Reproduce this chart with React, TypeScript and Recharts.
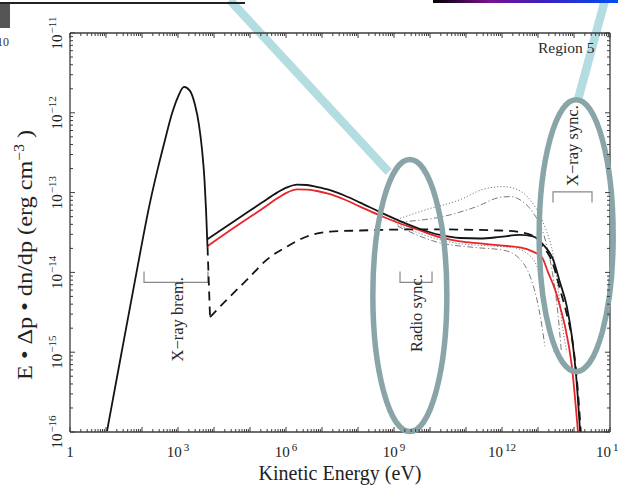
import React from 'react';
import { LineChart, Line, XAxis, YAxis, ReferenceLine, ReferenceDot } from 'recharts';

const FONT = '"Liberation Serif", "Times New Roman", serif';
const FRAME = '#3c3c3c';
const RED = '#e8262a';
const BLACK = '#141414';
const GRAY = '#7a7a7a';
const ELLIPSE = '#8aa5a8';
const CYAN = '#b3dde1';

// ---- series values, stored as log10 exponents: E in eV, y in erg cm^-3 ----
const thermalE = [1.028, 1.389, 1.806, 2.222, 2.444, 2.639, 2.833, 3.0, 3.167, 3.333, 3.472, 3.583, 3.667, 3.736, 3.778, 3.819];
const thermalY = [-15.99, -15.11, -14.1, -13.125, -12.69, -12.34, -12.01, -11.8, -11.675, -11.725, -11.9, -12.15, -12.46, -12.84, -13.21, -13.675];

const blackE = [3.806, 4.361, 4.917, 5.333, 5.75, 6.028, 6.306, 6.583, 6.861, 7.222, 7.639, 8.056, 8.611, 9.167, 9.722, 10.278, 10.833, 11.389, 11.944, 12.5, 12.86, 13.14, 13.42, 13.61, 13.8, 13.94, 14.06, 14.17];
const blackY = [-13.5875, -13.419, -13.25, -13.125, -13.0, -12.935, -12.9, -12.905, -12.93, -12.97, -13.04, -13.125, -13.244, -13.356, -13.456, -13.531, -13.569, -13.575, -13.556, -13.531, -13.55, -13.65, -13.84, -14.125, -14.425, -14.8, -15.3, -16.0];

const redE = [3.806, 4.361, 4.917, 5.333, 5.75, 6.028, 6.306, 6.583, 6.861, 7.222, 7.639, 8.056, 8.611, 9.167, 9.722, 10.278, 10.833, 11.389, 11.944, 12.5, 12.86, 13.11, 13.28, 13.47, 13.61, 13.75, 13.94, 14.11];
const redY = [-13.675, -13.5, -13.331, -13.206, -13.075, -13.0, -12.96, -12.962, -12.98, -13.02, -13.09, -13.175, -13.2875, -13.3875, -13.475, -13.5625, -13.6125, -13.6375, -13.6625, -13.6875, -13.74, -13.81, -14.0, -14.21, -14.425, -14.675, -15.175, -16.0];

const dashDropE = [3.82, 3.89];
const dashDropY = [-13.675, -14.56];
const dashE = [3.89, 4.36, 4.92, 5.47, 6.03, 6.58, 7.22, 8.06, 9.92, 11.94, 12.42, 12.86, 13.14, 13.42, 13.61, 13.8, 13.97, 14.08, 14.19];
const dashY = [-14.56, -14.34, -14.09, -13.84, -13.675, -13.55, -13.49, -13.475, -13.46, -13.475, -13.49, -13.54, -13.675, -13.9, -14.21, -14.525, -14.9, -15.34, -16.0];

const dotHiE = [9.0, 9.92, 10.83, 11.47, 12.03, 12.42, 12.78, 13.11, 13.25, 13.42, 13.56, 13.69, 13.8];
const dotHiY = [-13.35, -13.21, -13.09, -12.96, -12.925, -12.96, -13.09, -13.34, -13.5, -13.775, -14.21, -14.71, -15.0];
const dashDotHiE = [9.1, 10.36, 11.3, 11.94, 12.22, 12.5, 12.86, 13.11, 13.25, 13.4, 13.55, 13.65];
const dashDotHiY = [-13.37, -13.3, -13.175, -13.06, -13.05, -13.09, -13.25, -13.46, -13.675, -14.0, -14.5, -15.0];
const dotLoE = [9.1, 10.19, 10.83, 11.75, 12.31, 12.69, 12.97, 13.14, 13.28, 13.39, 13.45];
const dotLoY = [-13.4, -13.58, -13.64, -13.67, -13.69, -13.76, -13.925, -14.21, -14.55, -14.84, -15.0];
const dashDotLoE = [9.1, 10.19, 11.3, 12.03, 12.5, 12.78, 12.97, 13.11, 13.19];
const dashDotLoY = [-13.42, -13.62, -13.69, -13.72, -13.835, -14.05, -14.34, -14.675, -14.925];

// ---- tick labels ----
const X_LABEL_EXPS = [0, 3, 6, 9, 12, 15];
const Y_LABEL_EXPS = [-16, -15, -14, -13, -12, -11];
const X_DECADES = [0, 15];
const Y_DECADES = [-16, -11];

// ---- annotations (data coordinates, log10) ----
const ELLIPSES = [
  { e: 9.44, y: -14.29 },
  { e: 14.06, y: -13.54 },
];
const CYAN_BANDS = [
  { e1: 4.44, y1: -10.5875, e2: 8.85, y2: -12.74 },
  { e1: 14.86, y1: -10.5875, e2: 14.11, y2: -11.8375 },
];
const BRACKETS = [
  { e1: 2.056, e2: 3.833, base: -14.125, tip: -13.99 },
  { e1: 9.167, e2: 10.056, base: -14.125, tip: -13.99 },
  { e1: 13.417, e2: 14.5, base: -12.99, tip: -13.125 },
];
const NOTES = [
  { text: 'X\u2212ray brem.', e: 3.14, y: -14.5875 },
  { text: 'Radio sync.', e: 9.78, y: -14.51 },
  { text: 'X\u2212ray sync.', e: 14.11, y: -12.41 },
];
const REGION = { text: 'Region 5', e: 13.0, y: -11.25 };

const p10 = (v: number) => Math.pow(10, v);
const toPts = (es: number[], ys: number[]) => es.map((e, i) => ({ x: p10(e), y: p10(ys[i]) }));

const X_TICKS: number[] = [];
for (let n = X_DECADES[0]; n < X_DECADES[1]; n++) for (let k = 1; k <= 9; k++) X_TICKS.push(k * p10(n));
X_TICKS.push(p10(X_DECADES[1]));
const Y_TICKS: number[] = [];
for (let n = Y_DECADES[0]; n < Y_DECADES[1]; n++) for (let k = 1; k <= 9; k++) Y_TICKS.push(k * p10(n));
Y_TICKS.push(p10(Y_DECADES[1]));

const MAJOR = 5;
const MINOR = 3;
const decadeOf = (v: number) => {
  const l = Math.log10(v);
  const e = Math.round(l);
  return { e, major: Math.abs(l - e) < 1e-6 };
};

const BottomTick = (p: any) => {
  const { x, y, payload } = p;
  const { e, major } = decadeOf(payload.value);
  return (
    <g>
      <line x1={x} x2={x} y1={y} y2={y - (major ? MAJOR : MINOR)} stroke={FRAME} strokeWidth={1} />
      {major && X_LABEL_EXPS.includes(e) && (
        <text x={x} y={y + 25} textAnchor="middle" fontFamily={FONT} fontSize={15} fill="#222">
          {e === 0 ? '1' : (
            <>
              10<tspan dx={2} dy={-6} fontSize={11}>{e}</tspan>
            </>
          )}
        </text>
      )}
    </g>
  );
};
const TopTick = (p: any) => {
  const { x, y, payload } = p;
  const { major } = decadeOf(payload.value);
  return <line x1={x} x2={x} y1={y} y2={y + (major ? MAJOR : MINOR)} stroke={FRAME} strokeWidth={1} />;
};
const LeftTick = (p: any) => {
  const { x, y, payload } = p;
  const { e, major } = decadeOf(payload.value);
  const lx = x - 8;
  return (
    <g>
      <line x1={x} x2={x + (major ? MAJOR : MINOR)} y1={y} y2={y} stroke={FRAME} strokeWidth={1} />
      {major && Y_LABEL_EXPS.includes(e) && (
        <text x={lx} y={y} transform={`rotate(-90 ${lx} ${y})`} textAnchor="middle" fontFamily={FONT} fontSize={15} fill="#222">
          10<tspan dx={1} dy={-6} fontSize={11}>{`\u2212${-e}`}</tspan>
        </text>
      )}
    </g>
  );
};
const RightTick = (p: any) => {
  const { x, y, payload } = p;
  const { major } = decadeOf(payload.value);
  return <line x1={x} x2={x - (major ? MAJOR : MINOR)} y1={y} y2={y} stroke={FRAME} strokeWidth={1} />;
};

const XTitle = (p: any) => {
  const vb = p.viewBox || {};
  const cx = vb.x + vb.width / 2;
  return (
    <text x={cx} y={vb.y + 48} textAnchor="middle" fontFamily={FONT} fontSize={20} fill="#222" textLength={163} lengthAdjust="spacingAndGlyphs">
      Kinetic Energy (eV)
    </text>
  );
};
const YTitle = (p: any) => {
  const vb = p.viewBox || {};
  const bx = vb.x + 32;
  const cy = vb.y + 222;
  return (
    <text x={bx} y={cy} transform={`rotate(-90 ${bx} ${cy})`} textAnchor="middle" fontFamily={FONT} fontSize={22} fill="#222" textLength={250} lengthAdjust="spacingAndGlyphs">
      E {'\u2022'} {'\u0394'}p {'\u2022'} dn/dp (erg cm<tspan dy={-8} fontSize={14}>{'\u22123'}</tspan>
      <tspan dy={8}> )</tspan>
    </text>
  );
};

const lineCommon = { dot: false, activeDot: false, isAnimationActive: false, legendType: 'none' as const, dataKey: 'y' };

export default function App() {
  return (
    <div style={{ position: 'absolute', left: 0, top: 0, width: 618, height: 488, background: '#fff', overflow: 'hidden' }}>
      <LineChart width={618} height={488} margin={{ top: 33, right: 8, bottom: 0, left: 0 }}>
        <XAxis
          dataKey="x"
          type="number"
          scale="log"
          domain={[p10(X_DECADES[0]), p10(X_DECADES[1])]}
          allowDataOverflow
          ticks={X_TICKS}
          interval={0}
          tickSize={0}
          tickMargin={0}
          tickLine={false}
          tick={BottomTick}
          axisLine={{ stroke: FRAME, strokeWidth: 1.3 }}
          height={56}
          label={<XTitle />}
        />
        <XAxis
          xAxisId="top"
          dataKey="x"
          type="number"
          scale="log"
          orientation="top"
          mirror
          domain={[p10(X_DECADES[0]), p10(X_DECADES[1])]}
          allowDataOverflow
          ticks={X_TICKS}
          interval={0}
          tickSize={0}
          tickMargin={0}
          tickLine={false}
          tick={TopTick}
          axisLine={{ stroke: FRAME, strokeWidth: 1.3 }}
        />
        <YAxis
          dataKey="y"
          type="number"
          scale="log"
          domain={[p10(Y_DECADES[0]), p10(Y_DECADES[1])]}
          allowDataOverflow
          ticks={Y_TICKS}
          interval={0}
          tickSize={0}
          tickMargin={0}
          tickLine={false}
          tick={LeftTick}
          axisLine={{ stroke: FRAME, strokeWidth: 1.3 }}
          width={70}
          label={<YTitle />}
        />
        <YAxis
          yAxisId="right"
          dataKey="y"
          type="number"
          scale="log"
          orientation="right"
          mirror
          domain={[p10(Y_DECADES[0]), p10(Y_DECADES[1])]}
          allowDataOverflow
          ticks={Y_TICKS}
          interval={0}
          tickSize={0}
          tickMargin={0}
          tickLine={false}
          tick={RightTick}
          axisLine={{ stroke: FRAME, strokeWidth: 1.3 }}
        />

        {ELLIPSES.map((el, i) => (
          <ReferenceDot
            key={`el${i}`}
            x={p10(el.e)}
            y={p10(el.y)}
            r={1}
            ifOverflow="visible"
            shape={(sp: any) => (
              <ellipse cx={sp.cx} cy={sp.cy} rx={37} ry={136} fill="none" stroke={ELLIPSE} strokeWidth={5.5} />
            )}
          />
        ))}

        {BRACKETS.map((b, i) => (
          <Line
            key={`br${i}`}
            {...lineCommon}
            type="linear"
            data={toPts([b.e1, b.e1, b.e2, b.e2], [b.tip, b.base, b.base, b.tip])}
            stroke="#888"
            strokeWidth={1.2}
          />
        ))}

        <Line {...lineCommon} type="monotone" data={toPts(dotHiE, dotHiY)} stroke={GRAY} strokeWidth={1} strokeDasharray="1.2 2" />
        <Line {...lineCommon} type="monotone" data={toPts(dashDotHiE, dashDotHiY)} stroke={GRAY} strokeWidth={1} strokeDasharray="6 2.5 1.2 2.5" />
        <Line {...lineCommon} type="monotone" data={toPts(dotLoE, dotLoY)} stroke={GRAY} strokeWidth={1} strokeDasharray="1.2 2" />
        <Line {...lineCommon} type="monotone" data={toPts(dashDotLoE, dashDotLoY)} stroke={GRAY} strokeWidth={1} strokeDasharray="6 2.5 1.2 2.5" />

        <Line {...lineCommon} type="linear" data={toPts(dashDropE, dashDropY)} stroke={BLACK} strokeWidth={1.8} strokeDasharray="9 6" />
        <Line {...lineCommon} type="monotone" data={toPts(dashE, dashY)} stroke={BLACK} strokeWidth={1.8} strokeDasharray="9 6" />
        <Line {...lineCommon} type="monotone" data={toPts(redE, redY)} stroke={RED} strokeWidth={1.8} />
        <Line {...lineCommon} type="monotone" data={toPts(blackE, blackY)} stroke={BLACK} strokeWidth={1.8} />
        <Line {...lineCommon} type="monotone" data={toPts(thermalE, thermalY)} stroke={BLACK} strokeWidth={1.8} />

        {NOTES.map((n, i) => (
          <ReferenceDot
            key={`nt${i}`}
            x={p10(n.e)}
            y={p10(n.y)}
            r={1}
            ifOverflow="visible"
            shape={(sp: any) => (
              <text
                x={sp.cx}
                y={sp.cy}
                transform={`rotate(-90 ${sp.cx} ${sp.cy})`}
                textAnchor="middle"
                fontFamily={FONT}
                fontSize={16.5}
                fill="#2a2a2a"
              >
                {n.text}
              </text>
            )}
          />
        ))}

        <ReferenceDot
          x={p10(REGION.e)}
          y={p10(REGION.y)}
          r={1}
          ifOverflow="visible"
          shape={(sp: any) => (
            <text x={sp.cx} y={sp.cy} fontFamily={FONT} fontSize={15.5} fill="#2a2a2a">
              {REGION.text}
            </text>
          )}
        />

        {CYAN_BANDS.map((c, i) => (
          <ReferenceLine
            key={`cb${i}`}
            segment={[
              { x: p10(c.e1), y: p10(c.y1) },
              { x: p10(c.e2), y: p10(c.y2) },
            ]}
            stroke={CYAN}
            strokeWidth={8.5}
            ifOverflow="visible"
          />
        ))}
      </LineChart>

      <div style={{ position: 'absolute', left: 0, top: 2, width: 245, height: 1.5, background: '#222' }} />
      <div style={{ position: 'absolute', left: 0, top: 4, width: 10, height: 24, background: '#555' }} />
      <div style={{ position: 'absolute', left: -8, top: 35, width: 17, fontFamily: FONT, fontSize: 12, color: '#333', textAlign: 'right' }}>10</div>
      <div
        style={{
          position: 'absolute',
          left: 433,
          top: 0,
          width: 185,
          height: 3,
          background: 'linear-gradient(to right, #000 0%, #7a1090 30%, #3a20c0 60%, #0050f0 100%)',
        }}
      />
    </div>
  );
}
